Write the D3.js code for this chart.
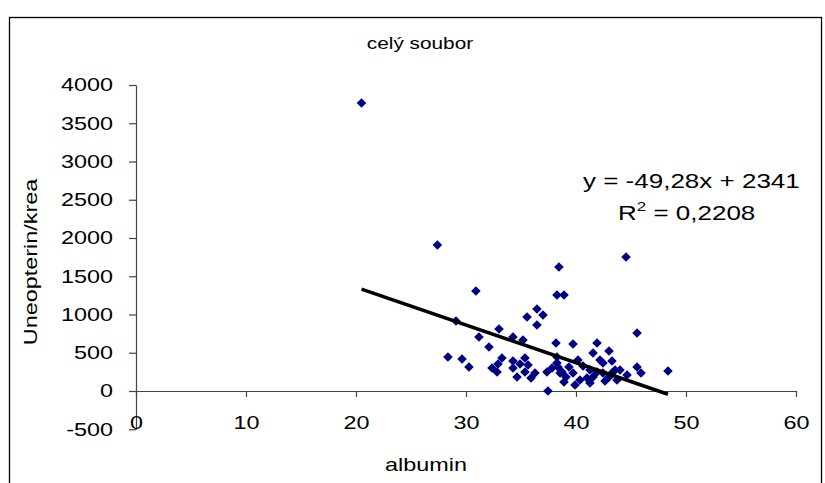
<!DOCTYPE html>
<html><head><meta charset="utf-8">
<script src="https://cdn.jsdelivr.net/npm/d3@7"></script>
<style>
body{margin:0;background:#fff}
svg{display:block}
text{font-family:Arial,"Liberation Sans",sans-serif;fill:#000}
</style>
</head><body>
<svg id="c" width="825" height="483"></svg>
<script>
// ---- data ----
const albumin = [20.5,27.4,30.9,38.45,44.55,38.27,38.91,36.45,37.0,35.55,29.09,33.0,36.45,31.18,32.09,34.27,35.18,38.18,39.73,41.91,41.55,43.0,43.27,45.55,28.36,29.64,30.27,
 32.36,32.82,33.27,32.91,34.27,34.27,34.64,34.91,35.36,35.36,35.64,35.91,36.27,37.36,37.82,38.27,38.36,38.73,37.45,
 38.55,38.27,38.91,39.09,39.36,39.73,39.91,40.18,40.36,40.64,41.0,41.27,41.27,41.55,41.91,42.18,42.45,42.45,42.64,43.0,43.27,43.55,43.73,44.0,44.64,45.55,45.91,48.36];
const uneopterinKrea = [3764,1908,1307,1621,1751,1255,1255,1072,993,967,915,810,863,706,575,706,667,627,614,627,497,523,392,758,444,418,314,
 301,248,431,353,392,301,183,353,431,248,340,170,235,248,301,444,314,248,0,
 235,366,118,183,314,235,78,405,144,327,170,105,274,183,248,405,366,235,131,183,235,274,144,274,209,314,235,261];
const xTickValues = [0,10,20,30,40,50,60];
const yTickValues = [-500,0,500,1000,1500,2000,2500,3000,3500,4000];
const trendSlope = -49.28, trendIntercept = 2341;
const titleText = "celý soubor";
const xLabel = "albumin";
const yLabel = "Uneopterin/krea";
const eqText = "y = -49,28x + 2341";
const r2Value = " = 0,2208";

// ---- layout ----
const SX = 1.3; // text is drawn wider than plain Arial in the reference
const svg = d3.select('#c');
const x = d3.scaleLinear().domain([0,60]).range([136,796]);
const y = d3.scaleLinear().domain([-500,4000]).range([429.25,85]);

svg.append('rect').attr('x',9.5).attr('y',17.5).attr('width',812).attr('height',520)
  .attr('fill','none').attr('stroke','#000').attr('stroke-width',1.3);

function stretchText(sel){
  sel.each(function(){
    const t=d3.select(this);
    const tx=+t.attr('x')||0;
    t.attr('x', tx/SX).attr('transform', `scale(${SX},1)`);
  });
}
function styleAxis(g){
  g.select('.domain').attr('stroke','#444').attr('stroke-width',1.2);
  g.selectAll('.tick line').attr('stroke','#444').attr('stroke-width',1.2);
  g.selectAll('text').attr('font-size',18).attr('fill','#000').attr('font-family','Arial, Liberation Sans, sans-serif');
  stretchText(g.selectAll('text'));
}

// y axis
const ya = svg.append('g').attr('transform','translate(136,0)')
  .call(d3.axisLeft(y).tickValues(yTickValues).tickSize(7).tickSizeOuter(0).tickPadding(16).tickFormat(d=>String(d)));
styleAxis(ya);

// x axis at y=0
const xa = svg.append('g').attr('transform',`translate(0,${y(0)})`)
  .call(d3.axisBottom(x).tickValues(xTickValues).tickSize(6).tickSizeOuter(0).tickPadding(19).tickFormat(d=>String(d)));
styleAxis(xa);

// points
const data = albumin.map((a,i)=>({a, v:uneopterinKrea[i]}));
const r = 4.8;
svg.append('g').selectAll('path').data(data).join('path')
  .attr('d', d=>{const cx=x(d.a), cy=y(d.v); return `M${cx},${cy-r}L${cx+r},${cy}L${cx},${cy+r}L${cx-r},${cy}Z`;})
  .attr('fill','#000080');

// trend line
const xmin=d3.min(albumin), xmax=d3.max(albumin);
svg.append('line')
  .attr('x1',x(xmin)).attr('y1',y(trendSlope*xmin+trendIntercept))
  .attr('x2',x(xmax)).attr('y2',y(trendSlope*xmax+trendIntercept))
  .attr('stroke','#000').attr('stroke-width',3.5);

function label(px,py,str,size,anchor){
  return svg.append('text').attr('transform',`translate(${px},${py}) scale(${SX},1)`)
    .attr('text-anchor',anchor).attr('font-size',size).text(str);
}
label(420,49,titleText,16,'middle');
label(426,471,xLabel,18,'middle');
svg.append('text').attr('transform',`translate(37,262) rotate(-90) scale(${SX},1)`)
  .attr('text-anchor','middle').attr('font-size',18).text(yLabel);
label(583,188,eqText,20,'start');
const rt = svg.append('text').attr('transform',`translate(618,220) scale(${SX},1)`).attr('font-size',20);
rt.append('tspan').text('R');
rt.append('tspan').attr('font-size',13).attr('dy',-9).text('2');
rt.append('tspan').attr('dy',9).text(r2Value);
</script>
</body></html>
